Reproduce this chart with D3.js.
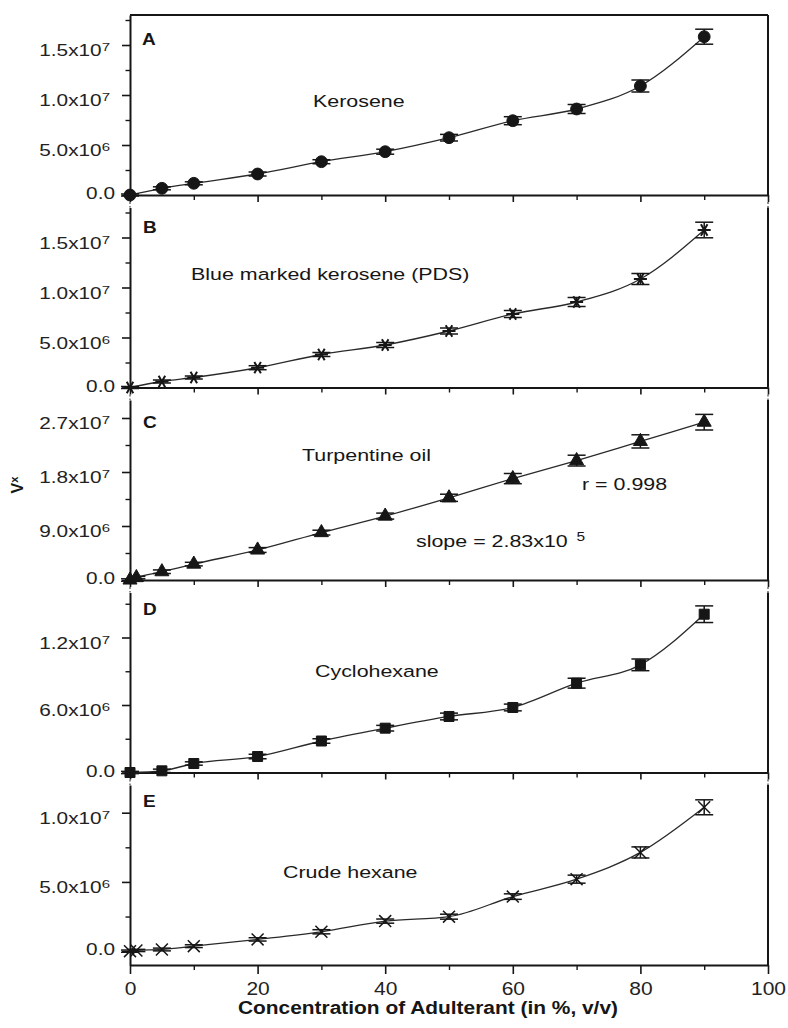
<!DOCTYPE html>
<html><head><meta charset="utf-8">
<script src="https://cdn.jsdelivr.net/npm/d3@7"></script>
<style>
body{margin:0;background:#fff;}
svg{display:block;font-family:"Liberation Sans",Arial,Helvetica,sans-serif;}
</style>
</head><body>
<svg id="c" width="788" height="1028"></svg>
<script>
// ---------------- DATA ----------------
const conc = [0, 5, 10, 20, 30, 40, 50, 60, 70, 80, 90];
const concFine = [0, 1, 5, 10, 20, 30, 40, 50, 60, 70, 80, 90];

const keroseneV   = [0, 0.67e6, 1.17e6, 2.10e6, 3.33e6, 4.33e6, 5.73e6, 7.43e6, 8.60e6, 10.9e6, 15.83e6];
const keroseneErr = [0.1e6, 0.15e6, 0.15e6, 0.2e6, 0.2e6, 0.25e6, 0.33e6, 0.4e6, 0.45e6, 0.6e6, 0.75e6];

const pdsV   = [0, 0.60e6, 1.00e6, 1.98e6, 3.30e6, 4.25e6, 5.65e6, 7.35e6, 8.55e6, 10.85e6, 15.75e6];
const pdsErr = [0.1e6, 0.15e6, 0.15e6, 0.2e6, 0.2e6, 0.25e6, 0.3e6, 0.35e6, 0.45e6, 0.55e6, 0.78e6];

const turpV   = [0, 0.4e6, 1.38e6, 2.65e6, 5.0e6, 7.9e6, 10.65e6, 13.7e6, 16.9e6, 19.9e6, 23.1e6, 26.3e6];
const turpErr = [0.2e6, 0.2e6, 0.3e6, 0.3e6, 0.4e6, 0.4e6, 0.5e6, 0.6e6, 0.85e6, 0.9e6, 1.1e6, 1.3e6];

const cycloV   = [0, 0.15e6, 0.80e6, 1.42e6, 2.80e6, 3.94e6, 4.98e6, 5.78e6, 7.94e6, 9.57e6, 14.07e6];
const cycloErr = [0.1e6, 0.15e6, 0.15e6, 0.2e6, 0.2e6, 0.25e6, 0.3e6, 0.3e6, 0.44e6, 0.52e6, 0.74e6];

const hexV   = [0, 0.05e6, 0.12e6, 0.36e6, 0.85e6, 1.40e6, 2.17e6, 2.49e6, 3.94e6, 5.20e6, 7.13e6, 10.39e6];
const hexErr = [0.08e6, 0.08e6, 0.1e6, 0.1e6, 0.12e6, 0.15e6, 0.15e6, 0.18e6, 0.2e6, 0.29e6, 0.4e6, 0.54e6];

const majorA = [0, 5e6, 1e7, 1.5e7];
const labelsA = ["0.0", "5.0x10^6", "1.0x10^7", "1.5x10^7"];
const minorA = [2.5e6, 7.5e6, 1.25e7, 1.75e7];
const majorC = [0, 9e6, 1.8e7, 2.7e7];
const labelsC = ["0.0", "9.0x10^6", "1.8x10^7", "2.7x10^7"];
const minorC = [4.5e6, 1.35e7, 2.25e7];
const majorD = [0, 6e6, 1.2e7];
const labelsD = ["0.0", "6.0x10^6", "1.2x10^7"];
const minorD = [3e6, 9e6, 1.5e7];
const majorE = [0, 5e6, 1e7];
const labelsE = ["0.0", "5.0x10^6", "1.0x10^7"];
const minorE = [2.5e6, 7.5e6];

const xMajor = [0, 20, 40, 60, 80, 100];
const xMinor = [10, 30, 50, 70, 90];

const panelLetters = ["A", "B", "C", "D", "E"];
const adulterants = ["Kerosene", "Blue marked kerosene (PDS)", "Turpentine oil", "Cyclohexane", "Crude hexane"];
const xTitle = "Concentration of Adulterant (in %, v/v)";
const rText = "r = 0.998";
const slopeText = "slope = 2.83x10^5";

// ---------------- LAYOUT ----------------
const xL = 130, xR = 768;
const panelTop = [15, 207.5, 400, 592.5, 785];
const panelH = 180;
const SX = 1.26;
const ink = "#161616";

const panels = [
  {xs: conc, v: keroseneV, e: keroseneErr, domain: [0, 1.8e7], major: majorA, labels: labelsA, minor: minorA, marker: "circle",
   letterPos: [142, 45], namePos: [313, 107]},
  {xs: conc, v: pdsV, e: pdsErr, domain: [0, 1.8e7], major: majorA, labels: labelsA, minor: minorA, marker: "asterisk",
   letterPos: [143, 233], namePos: [191, 279.5]},
  {xs: concFine, v: turpV, e: turpErr, domain: [0, 3.0e7], major: majorC, labels: labelsC, minor: minorC, marker: "triangle",
   letterPos: [143, 428], namePos: [302, 461]},
  {xs: conc, v: cycloV, e: cycloErr, domain: [0, 1.6e7], major: majorD, labels: labelsD, minor: minorD, marker: "square",
   letterPos: [143, 615], namePos: [315, 676.5]},
  {xs: concFine, v: hexV, e: hexErr, domain: [-1e6, 1.2e7], major: majorE, labels: labelsE, minor: minorE, marker: "times",
   letterPos: [143, 807], namePos: [283, 878]}
];

const svg = d3.select("#c");
const x = d3.scaleLinear().domain([0, 100]).range([xL, xR]);

function rich(t, str, size, supDx) {
  const parts = str.split("^");
  t.append("tspan").text(parts[0]);
  if (parts.length > 1) {
    t.append("tspan").attr("font-size", size * 0.72).attr("dy", -size * 0.3)
      .attr("dx", supDx || 0).text(parts[1]);
  }
}
function label(parent, px, py, str, opt) {
  const o = Object.assign({size: 17, weight: "normal", anchor: "start", sx: SX, supDx: 0}, opt || {});
  const t = parent.append("text")
    .attr("transform", `translate(${px},${py}) scale(${o.sx},1)`)
    .attr("font-size", o.size).attr("font-weight", o.weight)
    .attr("text-anchor", o.anchor).attr("fill", ink);
  rich(t, str, o.size, o.supDx);
  return t;
}

const symbols = {
  circle: {type: d3.symbolCircle, size: 110, fill: true},
  asterisk: {type: d3.symbolAsterisk, size: 120, fill: false, rot: 90, sw: 2},
  triangle: {type: d3.symbolTriangle, size: 85, fill: true},
  square: {type: d3.symbolSquare, size: 100, fill: true},
  times: {type: d3.symbolTimes, size: 95, fill: false, sw: 1.5}
};

panels.forEach((p, i) => {
  const top = panelTop[i], bot = top + panelH;
  const y = d3.scaleLinear().domain(p.domain).range([bot, top]);
  const g = svg.append("g");
  const isLast = i === panels.length - 1;

  // frame pieces
  g.append("line").attr("x1", xR).attr("x2", xR).attr("y1", top).attr("y2", bot)
    .attr("stroke", ink).attr("stroke-width", 2);
  if (i === 0) {
    g.append("line").attr("x1", xL).attr("x2", xR).attr("y1", top).attr("y2", top)
      .attr("stroke", ink).attr("stroke-width", 2);
  }
  if (!isLast) {
    const nt = panelTop[i + 1];
    [xL, xR].forEach(xx => g.append("line").attr("x1", xx).attr("x2", xx)
      .attr("y1", bot + 7).attr("y2", nt).attr("stroke", "#555")
      .attr("stroke-width", 1.3).attr("stroke-dasharray", "2,2"));
  }

  // y axis
  const ya = g.append("g").attr("transform", `translate(${xL},0)`)
    .call(d3.axisLeft(y).tickValues(p.major).tickSize(8).tickSizeOuter(0)
      .tickFormat(d => p.labels[p.major.indexOf(d)]));
  ya.attr("font-family", null).attr("font-size", 16);
  ya.select(".domain").attr("stroke", ink).attr("stroke-width", 2);
  ya.selectAll(".tick line").attr("stroke", ink).attr("stroke-width", 1.6);
  ya.selectAll(".tick text").each(function() {
    const t = d3.select(this);
    const lab = t.text();
    t.text(null);
    const hasExp = lab.includes("^");
    t.attr("x", null).attr("dy", null).attr("text-anchor", "end").attr("fill", "#222")
      .attr("transform", `translate(${hasExp ? -20 : -15},${hasExp ? 10.5 : 3.5}) scale(${SX + 0.04},1)`);
    rich(t, lab, 16, 0);
  });
  const yMin = g.append("g").attr("transform", `translate(${xL},0)`)
    .call(d3.axisLeft(y).tickValues(p.minor).tickSize(4.5).tickFormat(""));
  yMin.select(".domain").remove();
  yMin.selectAll(".tick line").attr("stroke", ink).attr("stroke-width", 1.4);

  // x axis
  const xa = g.append("g").attr("transform", `translate(0,${bot})`)
    .call(d3.axisBottom(x).tickValues(xMajor).tickSize(isLast ? 9 : 7).tickSizeOuter(0)
      .tickFormat(isLast ? d3.format("d") : ""));
  xa.attr("font-family", null).attr("font-size", 17.5);
  xa.select(".domain").attr("stroke", ink).attr("stroke-width", 2);
  xa.selectAll(".tick line").attr("stroke", ink).attr("stroke-width", 1.6);
  xa.selectAll(".tick text").attr("fill", "#222").attr("y", null).attr("dy", null)
    .attr("transform", `translate(0,30) scale(${SX - 0.06},1)`);
  const xMin = g.append("g").attr("transform", `translate(0,${bot})`)
    .call(d3.axisBottom(x).tickValues(xMinor).tickSize(5).tickFormat(""));
  xMin.select(".domain").remove();
  xMin.selectAll(".tick line").attr("stroke", ink).attr("stroke-width", 1.4);

  // curve
  const pts = d3.zip(p.xs, p.v, p.e);
  g.append("path").datum(pts)
    .attr("d", d3.line().x(d => x(d[0])).y(d => y(d[1])).curve(d3.curveMonotoneX))
    .attr("fill", "none").attr("stroke", "#2a2a2a").attr("stroke-width", 1.3);

  // error bars
  const eb = g.append("g").attr("stroke", ink).attr("stroke-width", 1.5);
  pts.forEach(d => {
    const cx = x(d[0]);
    eb.append("line").attr("x1", cx).attr("x2", cx).attr("y1", y(d[1] - d[2])).attr("y2", y(d[1] + d[2]));
    [d[1] - d[2], d[1] + d[2]].forEach(vv =>
      eb.append("line").attr("x1", cx - 9).attr("x2", cx + 9).attr("y1", y(vv)).attr("y2", y(vv)));
  });

  // markers
  const s = symbols[p.marker];
  const sym = d3.symbol().type(s.type).size(s.size);
  g.append("g").selectAll("path").data(pts).join("path")
    .attr("d", sym)
    .attr("transform", d => `translate(${x(d[0])},${y(d[1])})${s.rot ? ` rotate(${s.rot})` : ""}`)
    .attr("fill", s.fill ? ink : "none")
    .attr("stroke", ink).attr("stroke-width", s.sw || 1);

  // texts
  label(g, p.letterPos[0], p.letterPos[1], panelLetters[i], {size: 17, weight: "bold", sx: 1.12});
  label(g, p.namePos[0], p.namePos[1], adulterants[i], {size: 17});
  if (i === 2) {
    label(g, 582, 490, rText, {size: 17});
    label(g, 416, 546.5, slopeText, {size: 17, supDx: 7});
  }
});

// axis titles
label(svg, 428, 1014, xTitle, {size: 19, weight: "bold", anchor: "middle", sx: 1.1});
const vt = svg.append("text").attr("transform", "translate(23,485) rotate(-90)")
  .attr("text-anchor", "middle").attr("font-weight", "bold").attr("font-size", 16).attr("fill", ink);
vt.append("tspan").text("V");
vt.append("tspan").attr("font-size", 11).attr("dy", -5).text("x");
</script>
</body></html>
